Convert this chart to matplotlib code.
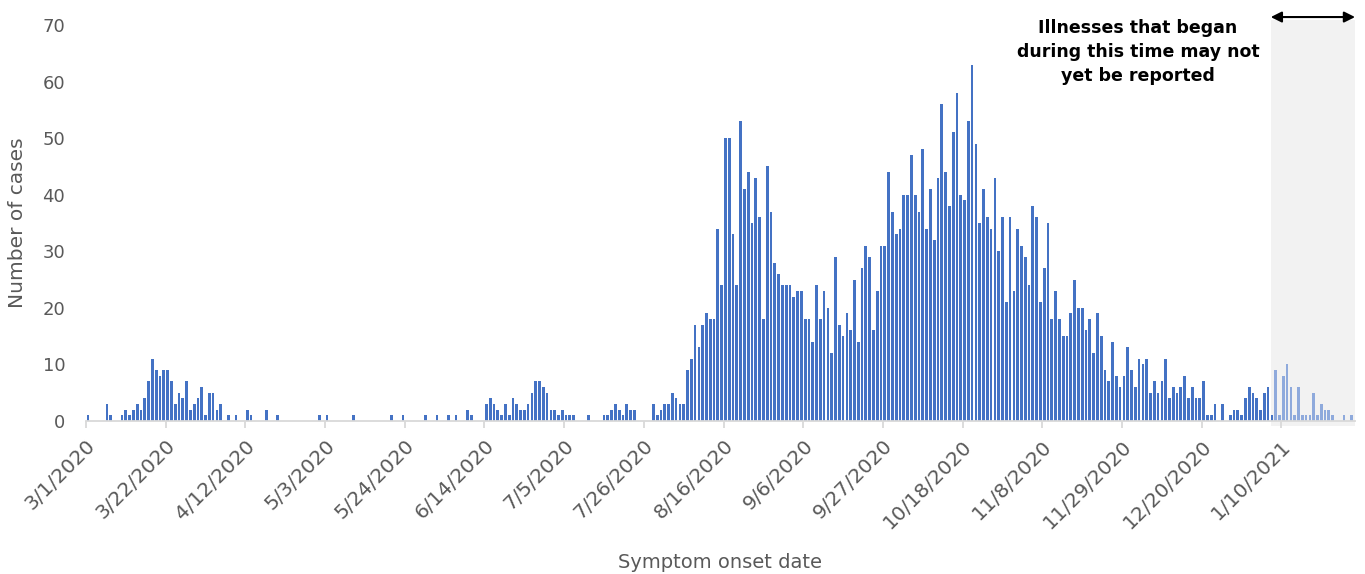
import matplotlib
matplotlib.use('Agg')
import matplotlib.pyplot as plt
import matplotlib.dates as mdates
from matplotlib.patches import Rectangle
import numpy as np
import pandas as pd

# daily case counts by symptom onset date, starting 3/1/2020 (one row = 21 days)
start = '2020-03-01'
cases = [
    1, 0, 0, 0, 0, 3, 1, 0, 0, 1, 2, 1, 2, 3, 2, 4, 7, 11, 9, 8, 9,
    9, 7, 3, 5, 4, 7, 2, 3, 4, 6, 1, 5, 5, 2, 3, 0, 1, 0, 1, 0, 0,
    2, 1, 0, 0, 0, 2, 0, 0, 1, 0, 0, 0, 0, 0, 0, 0, 0, 0, 0, 1, 0,
    1, 0, 0, 0, 0, 0, 0, 1, 0, 0, 0, 0, 0, 0, 0, 0, 0, 1, 0, 0, 1,
    0, 0, 0, 0, 0, 1, 0, 0, 1, 0, 0, 1, 0, 1, 0, 0, 2, 1, 0, 0, 0,
    3, 4, 3, 2, 1, 3, 1, 4, 3, 2, 2, 3, 5, 7, 7, 6, 5, 2, 2, 1, 2,
    1, 1, 1, 0, 0, 0, 1, 0, 0, 0, 1, 1, 2, 3, 2, 1, 3, 2, 2, 0, 0,
    0, 0, 3, 1, 2, 3, 3, 5, 4, 3, 3, 9, 11, 17, 13, 17, 19, 18, 18, 34, 24,
    50, 50, 33, 24, 53, 41, 44, 35, 43, 36, 18, 45, 37, 28, 26, 24, 24, 24, 22, 23, 23,
    18, 18, 14, 24, 18, 23, 20, 12, 29, 17, 15, 19, 16, 25, 14, 27, 31, 29, 16, 23, 31,
    31, 44, 37, 33, 34, 40, 40, 47, 40, 37, 48, 34, 41, 32, 43, 56, 44, 38, 51, 58, 40,
    39, 53, 63, 49, 35, 41, 36, 34, 43, 30, 36, 21, 36, 23, 34, 31, 29, 24, 38, 36, 21,
    27, 35, 18, 23, 18, 15, 15, 19, 25, 20, 20, 16, 18, 12, 19, 15, 9, 7, 14, 8, 6,
    8, 13, 9, 6, 11, 10, 11, 5, 7, 5, 7, 11, 4, 6, 5, 6, 8, 4, 6, 4, 4,
    7, 1, 1, 3, 0, 3, 0, 1, 2, 2, 1, 4, 6, 5, 4, 2, 5, 6, 1, 9, 1,
    8, 10, 6, 1, 6, 1, 1, 1, 5, 1, 3, 2, 2, 1, 0, 0, 1, 0, 1,
]
tick_dates = pd.date_range('2020-03-01', '2021-01-10', freq='21D')
lag_start = '2021-01-08'   # illnesses after this may not be reported yet
note = 'Illnesses that began\nduring this time may not\nyet be reported'

dates = pd.date_range(start, periods=len(cases))
cases = np.array(cases)
recent = np.array(dates >= pd.Timestamp(lag_start))
x = mdates.date2num(dates) + 0.5
x_end = mdates.date2num(dates[-1]) + 1.4

plt.rcParams['font.family'] = 'DejaVu Sans'
fig = plt.figure(figsize=(13.65, 5.74), dpi=100)
ax = fig.add_axes([0.063, 0.2666, 0.9297, 0.6899])

# grey band for the reporting lag
x0 = mdates.date2num(pd.Timestamp(lag_start)) - 0.8
ax.add_patch(Rectangle((x0, -0.9), x_end - x0, 71.7, color='#F2F2F2',
                       zorder=0, clip_on=False, lw=0))

ax.bar(x[~recent], cases[~recent], width=0.72, color='#4472C4', zorder=2)
ax.bar(x[recent], cases[recent], width=0.72, color='#8FAADC', zorder=2)

ax.annotate('', xy=(x0, 71.4), xytext=(x_end, 71.4),
            arrowprops=dict(arrowstyle='<|-|>', color='black', lw=1.5,
                            mutation_scale=16, shrinkA=0, shrinkB=0),
            annotation_clip=False)
ax.text(mdates.date2num(pd.Timestamp(start)) + 277.2, 65.2, note,
        ha='center', va='center', fontsize=12.5, fontweight='bold',
        linespacing=1.45, color='black')

ax.set_xlim(mdates.date2num(pd.Timestamp(start)), x_end)
ax.set_ylim(0, 70)
ax.set_yticks(range(0, 71, 10))
ax.set_xticks(mdates.date2num(tick_dates))
ax.set_xticklabels([f'{d.month}/{d.day}/{d.year}' for d in tick_dates],
                   rotation=45, ha='right', rotation_mode='anchor')

for s in ['top', 'right', 'left']:
    ax.spines[s].set_visible(False)
ax.spines['bottom'].set_color('#D9D9D9')
ax.spines['bottom'].set_linewidth(1.3)
ax.tick_params(axis='y', length=0, pad=15, labelsize=13, labelcolor='#595959')
ax.tick_params(axis='x', length=5, width=1.3, color='#D9D9D9', pad=6,
               labelsize=14.5, labelcolor='#595959')

fig.text(18 / 1365, 1 - 223 / 574, 'Number of cases', rotation=90,
         ha='center', va='center', fontsize=14.5, color='#595959')
fig.text(720 / 1365, 1 - 563 / 574, 'Symptom onset date',
         ha='center', va='center', fontsize=14, color='#595959')

fig.savefig('out.png', dpi=100)
